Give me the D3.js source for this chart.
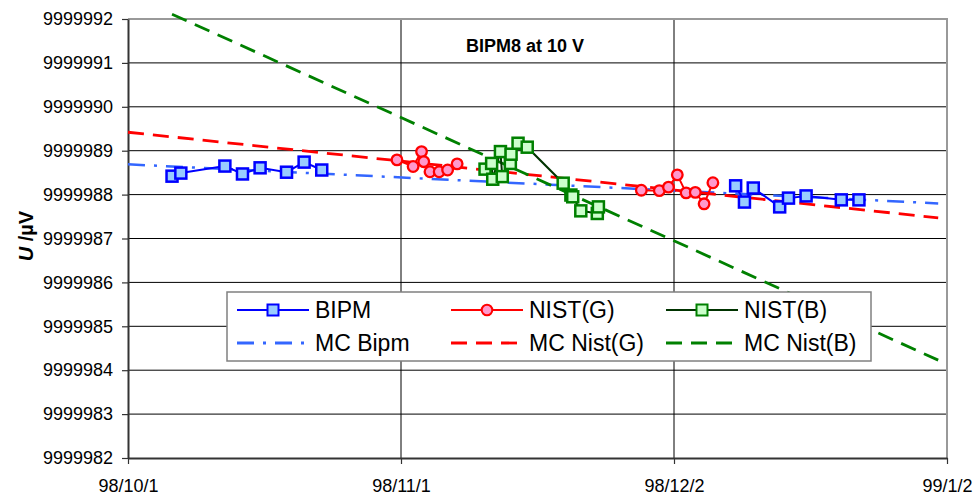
<!DOCTYPE html>
<html>
<head>
<meta charset="utf-8">
<script src="https://cdn.jsdelivr.net/npm/d3@7"></script>
<style>
body { margin: 0; background: #fff; }
svg { font-family: "Liberation Sans", Arial, sans-serif; }
</style>
</head>
<body>
<svg id="chart" width="978" height="503"></svg>
<script>
var parseTime = d3.timeParse("%Y-%m-%d %H");

// BIPM measurements (null = gap between campaigns)
var bipmDates = ["1998-10-06 00", "1998-10-07 00", "1998-10-12 00", "1998-10-14 00", "1998-10-16 00",
    "1998-10-19 00", "1998-10-21 00", "1998-10-23 00", "1998-11-15 00", "1998-12-09 00", "1998-12-10 00",
    "1998-12-11 00", "1998-12-14 00", "1998-12-15 00", "1998-12-17 00", "1998-12-21 00", "1998-12-23 00"];
var bipmValues = [9999988.42, 9999988.49, 9999988.65, 9999988.47, 9999988.61, 9999988.51, 9999988.74,
    9999988.56, null, 9999988.20, 9999987.83, 9999988.15, 9999987.72, 9999987.92, 9999987.97, 9999987.88, 9999987.88];

// NIST(G) measurements
var nistGDates = ["1998-10-31 13", "1998-11-02 09", "1998-11-03 08", "1998-11-03 14", "1998-11-04 07",
    "1998-11-05 08", "1998-11-06 07", "1998-11-07 09", "1998-11-15 00", "1998-11-28 07", "1998-11-30 08",
    "1998-12-01 09", "1998-12-02 09", "1998-12-03 09", "1998-12-04 10", "1998-12-05 10", "1998-12-06 10"];
var nistGValues = [9999988.79, 9999988.64, 9999988.98, 9999988.75, 9999988.52, 9999988.52, 9999988.56,
    9999988.70, null, 9999988.10, 9999988.09, 9999988.17, 9999988.45, 9999988.04, 9999988.05, 9999987.79, 9999988.27];

// NIST(B) measurements
var nistBDates = ["1998-11-10 13", "1998-11-11 07", "1998-11-11 10", "1998-11-12 07", "1998-11-12 12",
    "1998-11-13 10", "1998-11-13 12", "1998-11-14 07", "1998-11-15 08", "1998-11-19 10", "1998-11-20 07",
    "1998-11-20 12", "1998-11-21 10", "1998-11-23 07", "1998-11-23 10"];
var nistBValues = [9999988.58, 9999988.71, 9999988.35, 9999988.98, 9999988.41, 9999988.71, 9999988.92,
    9999989.17, 9999989.08, 9999988.26, 9999987.99, 9999987.95, 9999987.63, 9999987.57, 9999987.72];

// fitted lines (start / end)
var mcBipmDates = ["1998-10-01 00", "1999-01-01 00"];
var mcBipmValues = [9999988.69, 9999987.80];
var mcNistGDates = ["1998-10-01 00", "1999-01-01 00"];
var mcNistGValues = [9999989.42, 9999987.47];
var mcNistBDates = ["1998-10-06 00", "1999-01-01 00"];
var mcNistBValues = [9999992.11, 9999984.23];

var yTicks = [9999982, 9999983, 9999984, 9999985, 9999986, 9999987, 9999988, 9999989, 9999990, 9999991, 9999992];
var xTicks = ["1998-10-01 00", "1998-11-01 00", "1998-12-02 00", "1999-01-02 00"];

var svg = d3.select("#chart");

var x = d3.scaleTime()
    .domain([parseTime(xTicks[0]), parseTime(xTicks[3])])
    .range([128, 947]);
var y = d3.scaleLinear()
    .domain([9999982, 9999992])
    .range([458, 19]);

function pairs(dates, values) {
    return dates.map(function(d, i) { return {date: parseTime(d), value: values[i]}; });
}

// grid
svg.append("g").selectAll("line")
    .data(yTicks.slice(1, -1))
    .enter().append("line")
    .attr("x1", 128).attr("x2", 947)
    .attr("y1", function(d) { return y(d); })
    .attr("y2", function(d) { return y(d); })
    .attr("stroke", "#000").attr("stroke-width", 1);

svg.append("g").selectAll("line")
    .data(xTicks.slice(1, -1))
    .enter().append("line")
    .attr("x1", function(d) { return x(parseTime(d)); })
    .attr("x2", function(d) { return x(parseTime(d)); })
    .attr("y1", 19).attr("y2", 458)
    .attr("stroke", "#000").attr("stroke-width", 1);

// plot border top / right
svg.append("line").attr("x1", 128).attr("x2", 948).attr("y1", y(9999992)).attr("y2", y(9999992))
    .attr("stroke", "#999").attr("stroke-width", 2);
svg.append("line").attr("x1", 947).attr("x2", 947).attr("y1", 18).attr("y2", 458)
    .attr("stroke", "#999").attr("stroke-width", 2);

// axes
var yAxis = svg.append("g")
    .attr("transform", "translate(128,0)")
    .call(d3.axisLeft(y).tickValues(yTicks).tickFormat(d3.format("d")).tickSize(6).tickSizeOuter(0).tickPadding(9));
var xAxis = svg.append("g")
    .attr("transform", "translate(0,458)")
    .call(d3.axisBottom(x).tickValues(xTicks.map(parseTime)).tickFormat(d3.timeFormat("%y/%-m/%-d"))
        .tickSize(6).tickSizeOuter(0).tickPadding(15));

[yAxis, xAxis].forEach(function(a) {
    a.select(".domain").attr("stroke", "#333").attr("stroke-width", 2);
    a.selectAll(".tick line").attr("stroke", "#333").attr("stroke-width", 1.2);
    a.selectAll("text").attr("fill", "#000").style("font-size", "18px")
        .style("font-family", "'Liberation Sans', Arial, sans-serif");
});

var line = d3.line()
    .defined(function(d) { return d.value != null; })
    .x(function(d) { return x(d.date); })
    .y(function(d) { return y(d.value); });

// fitted lines
svg.append("path").datum(pairs(mcBipmDates, mcBipmValues))
    .attr("d", line).attr("fill", "none").attr("stroke", "#3366ff")
    .attr("stroke-width", 2.5).attr("stroke-dasharray", "17,9,3,9");
svg.append("path").datum(pairs(mcNistGDates, mcNistGValues))
    .attr("d", line).attr("fill", "none").attr("stroke", "#ff0000")
    .attr("stroke-width", 2.8).attr("stroke-dasharray", "16,9");
svg.append("path").datum(pairs(mcNistBDates, mcNistBValues))
    .attr("d", line).attr("fill", "none").attr("stroke", "#008000")
    .attr("stroke-width", 2.8).attr("stroke-dasharray", "16,9");

// measurement series
function drawSeries(data, lineColor, strokeColor, fillColor, shape) {
    svg.append("path").datum(data)
        .attr("d", line).attr("fill", "none").attr("stroke", lineColor).attr("stroke-width", 2);
    var pts = data.filter(function(d) { return d.value != null; });
    var g = svg.append("g");
    if (shape == "circle") {
        g.selectAll("circle").data(pts).enter().append("circle")
            .attr("cx", function(d) { return x(d.date); })
            .attr("cy", function(d) { return y(d.value); })
            .attr("r", 5.3)
            .attr("fill", fillColor).attr("stroke", strokeColor).attr("stroke-width", 2.3);
    } else {
        g.selectAll("rect").data(pts).enter().append("rect")
            .attr("x", function(d) { return x(d.date) - 5.5; })
            .attr("y", function(d) { return y(d.value) - 5.5; })
            .attr("width", 11).attr("height", 11)
            .attr("fill", fillColor).attr("stroke", strokeColor).attr("stroke-width", 2.5);
    }
}

drawSeries(pairs(bipmDates, bipmValues), "#0000ff", "#0000ff", "#99ccff", "square");
drawSeries(pairs(nistGDates, nistGValues), "#ff0000", "#ff0000", "#ff99cc", "circle");
drawSeries(pairs(nistBDates, nistBValues), "#003300", "#008000", "#ccffcc", "square");

// title
svg.append("text")
    .attr("x", 525).attr("y", 52)
    .attr("text-anchor", "middle")
    .style("font-size", "18px").style("font-weight", "bold")
    .text("BIPM8 at 10 V");

// y label
var yl = svg.append("text")
    .attr("transform", "translate(33,236) rotate(-90)")
    .attr("text-anchor", "middle")
    .style("font-size", "20px").style("font-weight", "bold");
yl.append("tspan").style("font-style", "italic").text("U");
yl.append("tspan").text(" /\u00b5V");

// legend
var legend = svg.append("g");
legend.append("rect")
    .attr("x", 227).attr("y", 292).attr("width", 644).attr("height", 69)
    .attr("fill", "#fff").attr("stroke", "#808080").attr("stroke-width", 1.5);

var legendItems = [
    {label: "BIPM", col: 0, row: 0, color: "#0000ff", stroke: "#0000ff", fill: "#99ccff", shape: "square"},
    {label: "NIST(G)", col: 1, row: 0, color: "#ff0000", stroke: "#ff0000", fill: "#ff99cc", shape: "circle"},
    {label: "NIST(B)", col: 2, row: 0, color: "#003300", stroke: "#008000", fill: "#ccffcc", shape: "square"},
    {label: "MC Bipm", col: 0, row: 1, color: "#3366ff", dash: "17,9,3,9"},
    {label: "MC Nist(G)", col: 1, row: 1, color: "#ff0000", dash: "16,9"},
    {label: "MC Nist(B)", col: 2, row: 1, color: "#008000", dash: "16,9"}
];
var colX = [237, 451, 666];
var rowY = [310, 343];

legendItems.forEach(function(it) {
    var lx = colX[it.col], ly = rowY[it.row];
    legend.append("line")
        .attr("x1", lx).attr("x2", lx + 72).attr("y1", ly).attr("y2", ly)
        .attr("stroke", it.color).attr("stroke-width", it.dash ? 2.8 : 2)
        .attr("stroke-dasharray", it.dash || null);
    if (it.shape == "circle") {
        legend.append("circle").attr("cx", lx + 36).attr("cy", ly).attr("r", 5.3)
            .attr("fill", it.fill).attr("stroke", it.stroke).attr("stroke-width", 2);
    } else if (it.shape == "square") {
        legend.append("rect").attr("x", lx + 30.5).attr("y", ly - 5.5).attr("width", 11).attr("height", 11)
            .attr("fill", it.fill).attr("stroke", it.stroke).attr("stroke-width", 2);
    }
    legend.append("text")
        .attr("x", lx + 78).attr("y", ly + 8)
        .style("font-size", "23px")
        .text(it.label);
});
</script>
</body>
</html>
